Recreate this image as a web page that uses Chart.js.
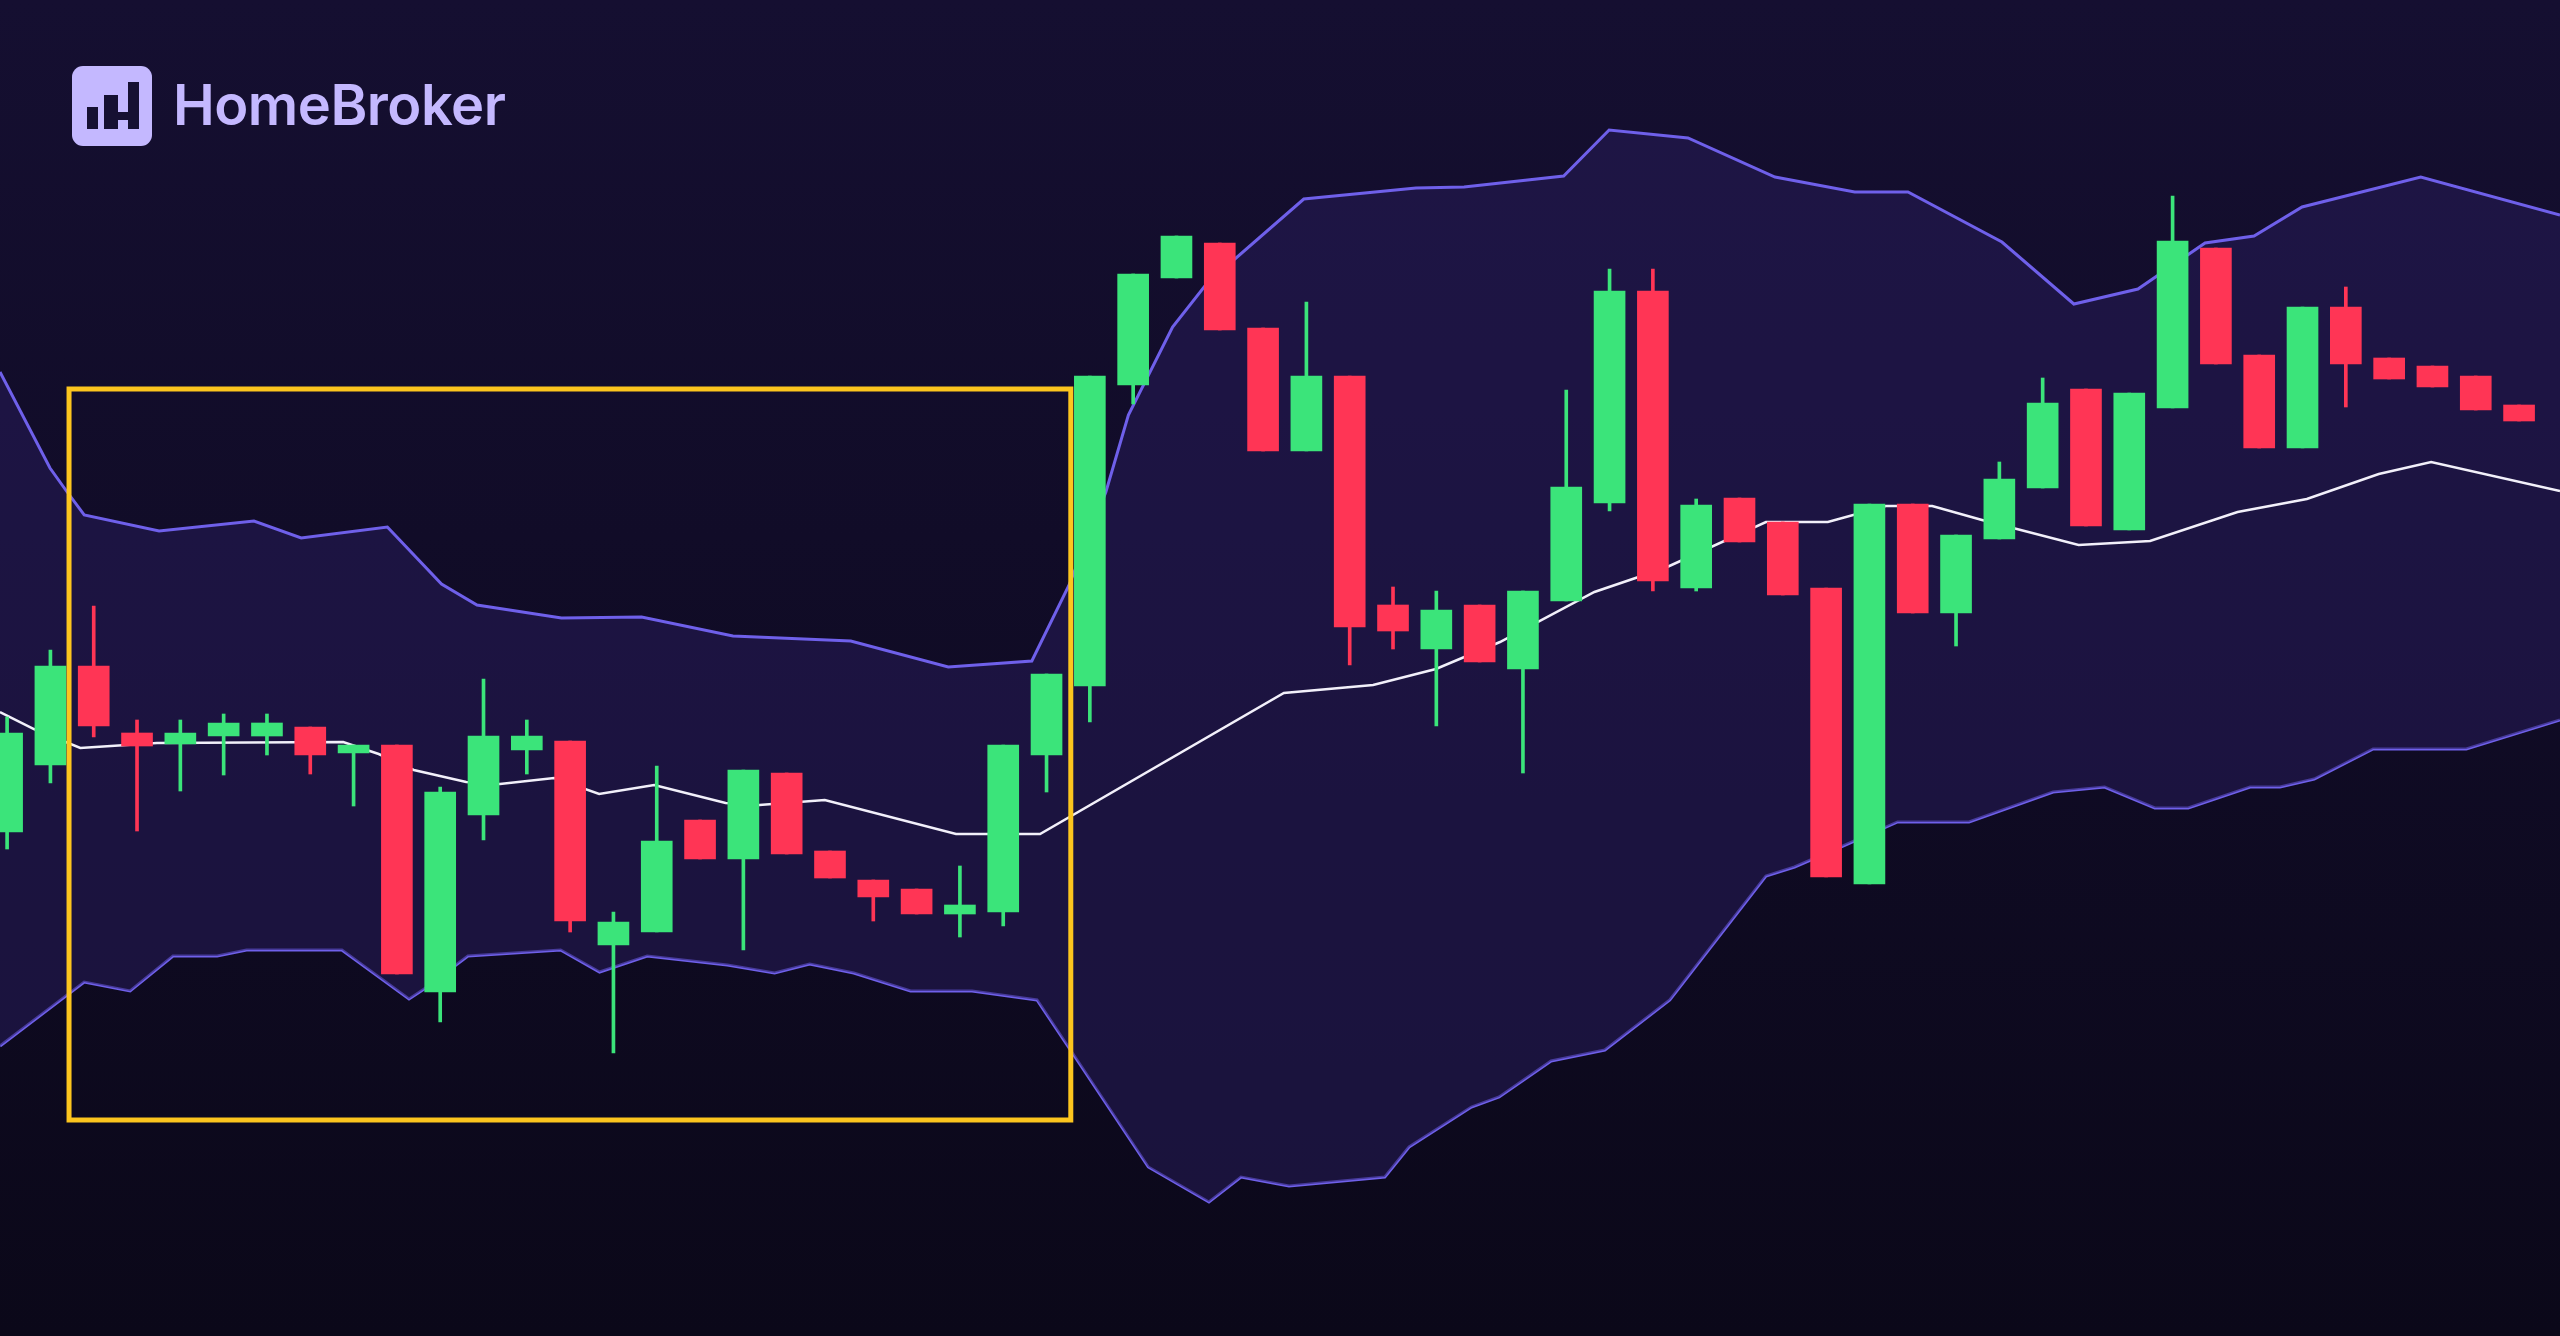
<!DOCTYPE html>
<html>
<head>
<meta charset="utf-8">
<script src="https://cdn.jsdelivr.net/npm/chart.js@4.4.1/dist/chart.umd.min.js"></script>
<style>
  html, body { margin: 0; padding: 0; width: 2560px; height: 1336px; overflow: hidden;
    background: linear-gradient(180deg, #150f31 0%, #110c28 40%, #0b0819 100%); }
  #wrap { position: absolute; left: 0; top: 0; width: 2560px; height: 1336px; }
  #logo { position: absolute; left: 72px; top: 66px; width: 80px; height: 80px; border-radius: 11px; background: #c4b8ff; }
  #logo div { position: absolute; background: #161032; }
  #brand { position: absolute; left: 173px; top: 77px; font-family: Inter, "Noto Sans", sans-serif; font-weight: 600;
    font-size: 56px; line-height: 56px; color: #c4b8ff; letter-spacing: -0.5px; white-space: nowrap; }
</style>
</head>
<body>
<div id="wrap"><canvas id="c"></canvas></div>
<div id="logo">
  <div style="left:15px;top:41px;width:11px;height:22px;"></div>
  <div style="left:32px;top:29px;width:14px;height:34px;"></div>
  <div style="left:46px;top:46px;width:10px;height:8px;"></div>
  <div style="left:56px;top:16px;width:11px;height:47px;"></div>
</div>
<div id="brand">HomeBroker</div>
<script>
// ---- Candle data (one entry per session) ----
const sessions = Array.from({length: 59}, (_, i) => 'S' + (i + 1));
const opens  = [50.4,57.1,67.0,60.3,59.2,60.0,60.0,60.9,58.3,59.1,34.4,52.1,58.6,59.5,39.1,40.4,51.6,47.7,56.3,48.5,45.6,44.7,42.2,42.4,58.1,65.0,95.1,105.8,109.3,100.8,88.5,96.0,73.1,68.7,73.1,66.7,73.5,83.3,104.5,74.8,83.8,81.4,74.8,45.2,83.2,72.3,79.7,84.8,94.7,80.6,92.8,108.8,98.1,88.8,102.9,97.8,97.0,96.0,93.1];
const highs  = [61.9,68.6,73.0,61.6,61.6,62.2,62.2,60.9,59.1,59.1,54.9,65.7,61.6,59.5,42.4,57.0,51.6,56.6,56.3,48.5,45.6,44.7,47.0,59.1,66.2,96.0,106.2,110.0,109.3,100.8,103.4,96.0,74.9,74.5,73.1,74.5,94.6,106.7,106.7,83.7,83.8,81.4,74.8,83.2,83.2,80.1,87.4,95.8,94.7,94.3,114.0,108.8,98.1,102.9,104.9,97.8,97.0,96.0,93.1];
const lows   = [48.7,55.3,59.9,50.5,54.5,56.1,58.1,56.2,53.0,36.2,31.4,49.6,56.2,40.4,28.3,40.4,47.7,38.6,48.2,45.8,41.5,42.2,39.9,41.0,54.4,61.4,93.2,105.8,100.6,88.5,88.5,67.1,68.7,61.0,67.4,56.3,73.5,82.5,74.5,74.5,79.4,74.1,45.9,45.2,72.3,69.0,79.7,84.8,81.0,80.6,92.8,97.2,88.8,88.8,92.9,95.7,94.9,92.6,91.5];
const closes = [60.3,67.0,61.0,59.0,60.3,61.3,61.3,58.1,59.1,36.2,54.4,60.0,60.0,41.5,41.4,49.5,47.7,56.6,48.2,45.8,43.9,42.2,43.1,59.1,66.2,96.0,106.2,110.0,100.6,88.5,96.0,70.9,70.5,72.6,67.4,74.5,84.9,104.5,75.5,83.1,79.4,74.1,45.9,83.2,72.3,80.1,85.7,93.3,81.0,94.3,109.5,97.2,88.8,102.9,97.2,95.7,94.9,92.6,91.5];

// ---- Bollinger bands (x in session-index units) ----
const upperX = [-0.164,0.99,1.37,1.78,3.51,5.70,6.79,8.78,10.03,10.85,12.80,14.65,16.76,19.48,21.73,23.66,24.51,25.37,25.89,26.91,27.71,29.94,32.53,33.64,35.94,36.99,38.81,40.82,42.66,43.89,46.06,47.72,49.20,50.75,51.88,52.99,55.73,58.945];
const upperY = [96.4,86.8,84.5,82.1,80.5,81.5,79.8,80.9,75.2,73.1,71.8,71.9,70.0,69.5,66.9,67.5,75.0,84.4,92.1,100.9,105.3,113.7,114.8,114.9,116.0,120.6,119.8,115.9,114.4,114.4,109.4,103.2,104.7,109.3,110.0,112.9,115.9,112.1];
const middleX = [-0.164,0.62,1.69,3.46,7.76,8.58,9.39,10.60,11.38,12.63,13.67,14.94,16.59,17.37,18.88,21.91,23.85,29.48,31.54,32.99,34.47,36.65,38.28,40.61,42.04,43.38,44.45,45.60,47.83,49.48,51.50,53.10,54.76,55.97,58.945];
const middleY = [62.4,60.7,58.8,59.3,59.4,58.2,56.6,55.4,55.2,55.8,54.2,55.1,53.3,53.1,53.6,50.2,50.2,64.3,65.1,66.7,69.4,74.4,76.8,81.4,81.4,83.0,83.0,81.6,79.1,79.5,82.4,83.7,86.2,87.4,84.5];
const lowerX = [-0.164,1.78,2.84,3.83,4.85,5.53,7.73,9.28,9.63,10.64,12.78,13.68,14.78,16.63,17.72,18.53,19.55,20.86,22.28,23.78,24.49,26.35,27.75,28.49,29.60,31.81,32.37,33.81,34.45,35.65,36.89,38.39,40.61,41.27,42.39,43.65,45.30,47.24,48.43,49.59,50.36,51.79,52.48,53.27,54.63,56.78,58.945];
const lowerY = [29.0,35.4,34.5,38.0,38.0,38.6,38.6,33.7,34.7,38.0,38.6,36.4,38.0,37.1,36.3,37.2,36.3,34.5,34.5,33.6,29.0,16.9,13.4,15.9,15.0,15.9,18.9,22.9,23.9,27.5,28.6,33.6,46.0,46.9,49.0,51.4,51.4,54.4,54.9,52.8,52.8,54.9,54.9,55.7,58.7,58.7,61.6];

// ---- Highlight box (session-index units / price units) ----
const highlightX = [1.43, 24.56];
const highlightY = [94.7, 21.6];

const UP = '#3be47a', DOWN = '#ff3555';
const pts = (xs, ys) => xs.map((x, i) => ({x, y: ys[i]}));
const colorOf = i => closes[i] >= opens[i] ? UP : DOWN;

const bodies = sessions.map((s, i) => ({x: i, y: [opens[i], closes[i]]}));
const wicks  = sessions.map((s, i) => ({x: i, y: [lows[i], highs[i]]}));

const highlightPlugin = {
  id: 'highlight',
  afterDatasetsDraw(chart) {
    const {ctx, scales: {x, y}} = chart;
    const l = x.getPixelForValue(highlightX[0]), r = x.getPixelForValue(highlightX[1]);
    const t = y.getPixelForValue(highlightY[0]), b = y.getPixelForValue(highlightY[1]);
    ctx.save();
    ctx.strokeStyle = '#fcc51e';
    ctx.lineWidth = 5;
    ctx.strokeRect(l, t, r - l, b - t);
    ctx.restore();
  }
};

new Chart(document.getElementById('c'), {
  type: 'bar',
  data: {
    labels: sessions,
    datasets: [
      { type: 'line', label: 'Upper band', data: pts(upperX, upperY), borderColor: '#6f60ea', borderWidth: 3,
        pointRadius: 0, tension: 0, fill: '+1', backgroundColor: 'rgba(38,28,88,0.55)', order: 4 },
      { type: 'line', label: 'Lower band', data: pts(lowerX, lowerY), borderColor: '#6f60ea', borderWidth: 3,
        pointRadius: 0, tension: 0, fill: false, order: 4 },
      { type: 'line', label: 'Middle band', data: pts(middleX, middleY), borderColor: '#f2f0fa', borderWidth: 2.5,
        pointRadius: 0, tension: 0, fill: false, order: 3 },
      { type: 'bar', label: 'Wicks', data: wicks, backgroundColor: sessions.map((s, i) => colorOf(i)),
        barThickness: 3, grouped: false, borderWidth: 0, order: 2 },
      { type: 'bar', label: 'Bodies', data: bodies, backgroundColor: sessions.map((s, i) => colorOf(i)),
        barThickness: 31, grouped: false, borderWidth: 0, order: 1 }
    ]
  },
  options: {
    responsive: true,
    maintainAspectRatio: false,
    animation: false,
    devicePixelRatio: 1,
    layout: { padding: 0 },
    plugins: { legend: { display: false }, tooltip: { enabled: false } },
    scales: {
      x: { type: 'linear', min: -0.164, max: 58.945, offset: false, display: false, grid: { display: false } },
      y: { min: 0, max: 133.6, display: false, grid: { display: false } }
    }
  },
  plugins: [highlightPlugin]
});
</script>
</body>
</html>
